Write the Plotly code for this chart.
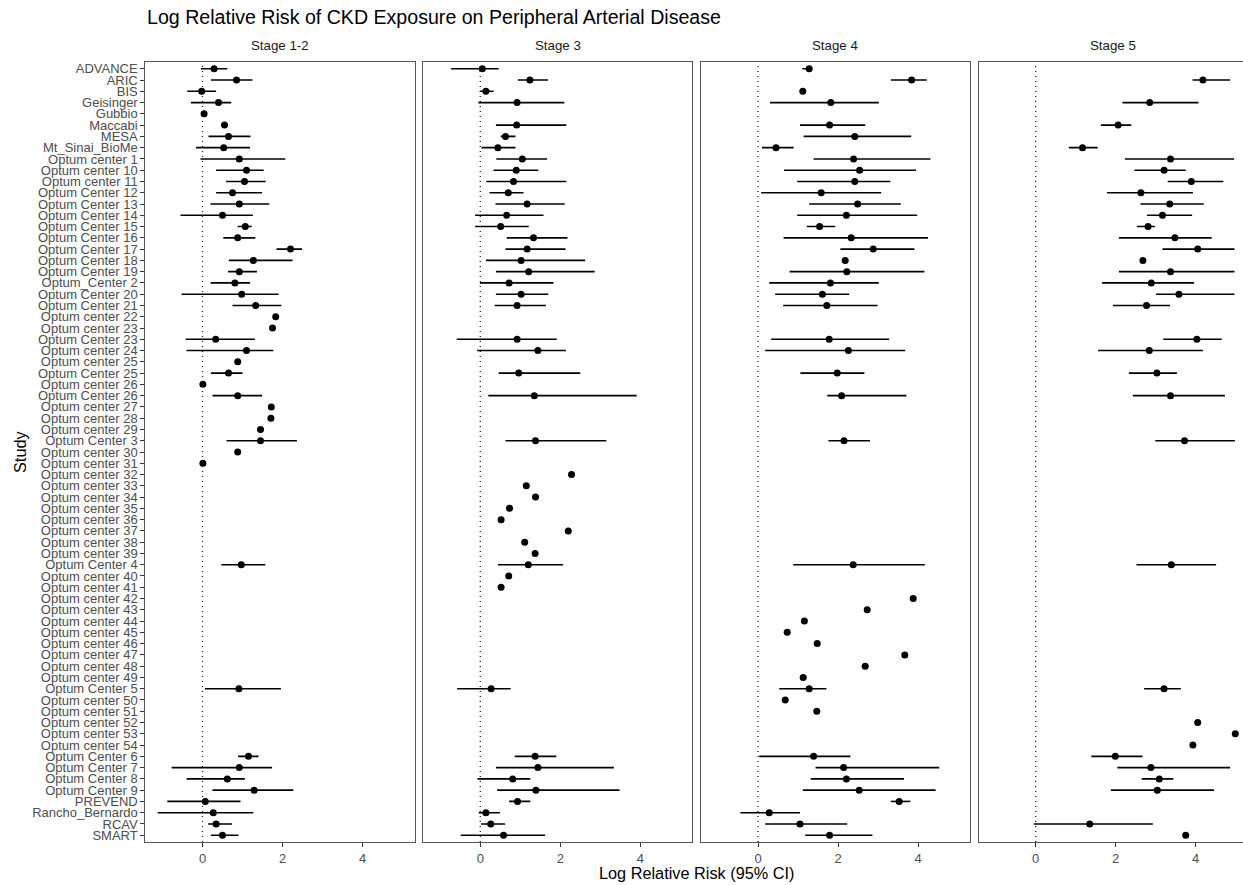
import plotly.graph_objects as go

N = None
studies = [
    "ADVANCE", "ARIC", "BIS", "Geisinger", "Gubbio", "Maccabi", "MESA", "Mt_Sinai_BioMe",
    "Optum center 1", "Optum center 10", "Optum center 11", "Optum Center 12", "Optum Center 13",
    "Optum Center 14", "Optum Center 15", "Optum Center 16", "Optum Center 17", "Optum Center 18",
    "Optum Center 19", "Optum_Center 2", "Optum Center 20", "Optum Center 21", "Optum center 22",
    "Optum center 23", "Optum Center 23", "Optum center 24", "Optum center 25", "Optum Center 25",
    "Optum center 26", "Optum Center 26", "Optum center 27", "Optum center 28", "Optum center 29",
    "Optum Center 3", "Optum center 30", "Optum center 31", "Optum center 32", "Optum center 33",
    "Optum center 34", "Optum center 35", "Optum center 36", "Optum center 37", "Optum center 38",
    "Optum center 39", "Optum Center 4", "Optum center 40", "Optum center 41", "Optum center 42",
    "Optum center 43", "Optum center 44", "Optum center 45", "Optum center 46", "Optum center 47",
    "Optum center 48", "Optum center 49", "Optum Center 5", "Optum center 50", "Optum center 51",
    "Optum center 52", "Optum center 53", "Optum center 54", "Optum Center 6", "Optum Center 7",
    "Optum Center 8", "Optum Center 9", "PREVEND", "Rancho_Bernardo", "RCAV", "SMART"]

stages = ["Stage 1-2", "Stage 3", "Stage 4", "Stage 5"]

# ---- Stage 1-2 ----
s12_est = [0.29, 0.85, -0.02, 0.40, 0.04, 0.55, 0.65, 0.53, 0.92, 1.10,
           1.05, 0.75, 0.92, 0.50, 1.07, 0.88, 2.20, 1.27, 0.92, 0.81,
           0.98, 1.33, 1.83, 1.75, 0.33, 1.10, 0.88, 0.65, 0.01, 0.88,
           1.72, 1.71, 1.45, 1.45, 0.88, 0.01, N, N, N, N,
           N, N, N, N, 0.97, N, N, N, N, N,
           N, N, N, N, N, 0.91, N, N, N, N,
           N, 1.15, 0.92, 0.62, 1.29, 0.07, 0.27, 0.34, 0.50]
s12_lo = [-0.04, 0.21, -0.38, -0.29, N, 0.48, 0.15, -0.16, -0.05, 0.34,
          0.59, 0.34, 0.20, -0.55, 0.88, 0.52, 1.85, 0.66, 0.64, 0.20,
          -0.52, 0.75, N, N, -0.42, -0.40, N, 0.21, N, 0.25,
          N, N, N, 0.60, N, N, N, N, N, N,
          N, N, N, N, 0.47, N, N, N, N, N,
          N, N, N, N, N, 0.06, N, N, N, N,
          N, 0.89, -0.77, -0.40, 0.25, -0.88, -1.12, 0.14, 0.21]
s12_hi = [0.62, 1.25, 0.34, 0.72, N, 0.62, 1.20, 1.19, 2.07, 1.53,
          1.58, 1.49, 1.67, 1.26, 1.23, 1.32, 2.49, 2.25, 1.36, 1.19,
          1.90, 1.97, N, N, 1.31, 1.77, N, 1.00, N, 1.49,
          N, N, N, 2.36, N, N, N, N, N, N,
          N, N, N, N, 1.57, N, N, N, N, N,
          N, N, N, N, N, 1.96, N, N, N, N,
          N, 1.40, 1.74, 1.06, 2.27, 0.95, 1.27, 0.74, 0.90]

# ---- Stage 3 ----
s3_est = [0.05, 1.24, 0.14, 0.92, N, 0.91, 0.63, 0.44, 1.05, 0.90,
          0.83, 0.70, 1.17, 0.66, 0.51, 1.33, 1.17, 1.02, 1.21, 0.72,
          1.02, 0.92, N, N, 0.92, 1.44, N, 0.96, N, 1.35,
          N, N, N, 1.38, N, N, 2.28, 1.15, 1.38, 0.73,
          0.52, 2.20, 1.11, 1.37, 1.20, 0.71, 0.52, N, N, N,
          N, N, N, N, N, 0.27, N, N, N, N,
          N, 1.37, 1.44, 0.81, 1.39, 0.93, 0.14, 0.26, 0.58]
s3_lo = [-0.73, 0.94, -0.01, -0.05, N, 0.39, 0.51, 0.03, 0.40, 0.33,
         0.15, 0.23, 0.38, -0.13, -0.13, 0.66, 0.63, 0.14, 0.39, -0.01,
         0.39, 0.36, N, N, -0.59, -0.08, N, 0.46, N, 0.20,
         N, N, N, 0.63, N, N, N, N, N, N,
         N, N, N, N, 0.44, N, N, N, N, N,
         N, N, N, N, N, -0.58, N, N, N, N,
         N, 0.86, 0.39, -0.07, 0.42, 0.72, -0.04, 0.02, -0.49]
s3_hi = [0.46, 1.69, 0.33, 2.10, N, 2.15, 0.88, 0.88, 1.67, 1.45,
         2.15, 1.08, 2.11, 1.58, 1.21, 2.18, 2.13, 2.62, 2.86, 1.83,
         1.70, 1.64, N, N, 1.91, 2.14, N, 2.50, N, 3.91,
         N, N, N, 3.15, N, N, N, N, N, N,
         N, N, N, N, 2.07, N, N, N, N, N,
         N, N, N, N, N, 0.76, N, N, N, N,
         N, 1.90, 3.34, 1.25, 3.48, 1.25, 0.49, 0.62, 1.62]

# ---- Stage 4 ----
s4_est = [1.28, 3.84, 1.12, 1.82, N, 1.79, 2.42, 0.45, 2.39, 2.54,
          2.42, 1.58, 2.49, 2.21, 1.54, 2.33, 2.88, 2.18, 2.22, 1.81,
          1.61, 1.72, N, N, 1.78, 2.26, N, 1.98, N, 2.09,
          N, N, N, 2.15, N, N, N, N, N, N,
          N, N, N, N, 2.38, N, N, 3.88, 2.73, 1.16,
          0.73, 1.48, 3.67, 2.68, 1.13, 1.28, 0.68, 1.47, N, N,
          N, 1.39, 2.14, 2.21, 2.53, 3.53, 0.28, 1.05, 1.79]
s4_lo = [1.11, 3.32, N, 0.30, N, 1.05, 1.14, 0.10, 1.39, 0.65,
         0.98, 0.08, 1.28, 0.98, 1.22, 0.64, 2.06, N, 0.79, 0.28,
         0.43, 0.63, N, N, 0.33, 0.18, N, 1.06, N, 1.73,
         N, N, N, 1.76, N, N, N, N, N, N,
         N, N, N, N, 0.88, N, N, N, N, N,
         N, N, N, N, N, 0.53, N, N, N, N,
         N, 0.03, 1.44, 1.32, 1.12, 3.32, -0.44, 0.18, 1.18]
s4_hi = [1.34, 4.22, N, 3.02, N, 2.68, 3.83, 0.89, 4.31, 3.95,
         3.31, 3.08, 3.57, 3.98, 1.93, 4.25, 3.91, N, 4.16, 3.02,
         2.28, 2.99, N, N, 3.28, 3.68, N, 2.66, N, 3.71,
         N, N, N, 2.80, N, N, N, N, N, N,
         N, N, N, N, 4.17, N, N, N, N, N,
         N, N, N, N, N, 1.71, N, N, N, N,
         N, 2.31, 4.53, 3.65, 4.44, 3.81, 1.05, 2.23, 2.86]

# ---- Stage 5 ----
s5_est = [N, 4.18, N, 2.85, N, 2.06, N, 1.17, 3.37, 3.21,
          3.89, 2.63, 3.35, 3.17, 2.81, 3.48, 4.05, 2.68, 3.37, 2.89,
          3.58, 2.77, N, N, 4.03, 2.84, N, 3.03, N, 3.37,
          N, N, N, 3.72, N, N, N, N, N, N,
          N, N, N, N, 3.39, N, N, N, N, N,
          N, N, N, N, N, 3.21, N, N, 4.05, 4.99,
          3.93, 1.99, 2.88, 3.09, 3.04, N, N, 1.35, 3.75]
s5_lo = [N, 3.92, N, 2.17, N, 1.63, N, 0.83, 2.23, 2.47,
         3.30, 1.78, 2.62, 2.78, 2.53, 2.08, 3.17, 2.62, 2.08, 1.66,
         3.01, 1.93, N, N, 3.19, 1.56, N, 2.33, N, 2.43,
         N, N, N, 2.99, N, N, N, N, N, N,
         N, N, N, N, 2.52, N, N, N, N, N,
         N, N, N, N, N, 2.71, N, N, N, N,
         N, 1.39, 2.04, 2.65, 1.88, N, N, -0.05, N]
s5_hi = [N, 4.86, N, 4.07, N, 2.39, N, 1.55, 4.96, 3.75,
         4.69, 3.93, 4.20, 3.91, 2.98, 4.40, 4.97, 2.73, 4.97, 3.96,
         4.97, 3.36, N, N, 4.65, 4.18, N, 3.53, N, 4.73,
         N, N, N, 4.98, N, N, N, N, N, N,
         N, N, N, N, 4.51, N, N, N, N, N,
         N, N, N, N, N, 3.63, N, N, N, N,
         N, 2.67, 4.86, 3.44, 4.46, N, N, 2.93, N]

series = [(s12_est, s12_lo, s12_hi), (s3_est, s3_lo, s3_hi),
          (s4_est, s4_lo, s4_hi), (s5_est, s5_lo, s5_hi)]
for trio in series:
    for arr in trio:
        assert len(arr) == len(studies)

x_ticks = [0, 2, 4]

# ---------------- layout geometry ----------------
W, H = 1243, 885
ML, MR, MT, MB = 145, 0, 62, 43
PW = W - ML - MR
PH = H - MT - MB
PX_PER_UNIT = 40.0
X_MIN, X_MAX = -1.43, 5.30
panel_left = [145.3, 423.1, 700.8, 978.5]
panel_w = (X_MAX - X_MIN) * PX_PER_UNIT

FONT = "Liberation Sans, Arial, Helvetica, sans-serif"
BORDER = "#555555"
TICKC = "#333333"
TXT = "#4D4D4D"
TICK_FS = 13
STRIP_FS = 13.3
AXT_FS = 16.3
TITLE_FS = 19.6

fig = go.Figure()
layout = dict(
    width=W, height=H,
    margin=dict(l=ML, r=MR, t=MT, b=MB, pad=0, autoexpand=False),
    paper_bgcolor="white", plot_bgcolor="white",
    showlegend=False,
    font=dict(family=FONT, color=TXT, size=TICK_FS),
)

shapes = []
annotations = []
for k, (stage, (est, lo, hi)) in enumerate(zip(stages, series)):
    sfx = "" if k == 0 else str(k + 1)
    xa, ya = "x" + sfx, "y" + sfx
    left = panel_left[k]
    right_px = min(left + panel_w, W - MR)
    d0 = max(0.0, (left - ML) / PW)
    d1 = min(1.0, (right_px - ML) / PW)
    xr_hi = X_MIN + (right_px - left) / PX_PER_UNIT

    # CI lines
    ex, ey = [], []
    for s, l, h in zip(studies, lo, hi):
        if l is not None and h is not None:
            ex += [l, h, None]
            ey += [s, s, None]
    fig.add_trace(go.Scatter(x=ex, y=ey, mode="lines", xaxis=xa, yaxis=ya,
                             line=dict(color="black", width=1.6),
                             hoverinfo="skip", connectgaps=False))
    # points
    fig.add_trace(go.Scatter(x=est, y=studies, mode="markers", xaxis=xa, yaxis=ya,
                             marker=dict(color="black", size=7, line=dict(width=0))))

    layout["xaxis" + sfx] = dict(
        domain=[d0, d1], anchor=ya, range=[X_MIN, xr_hi],
        tickmode="array", tickvals=x_ticks, ticktext=[str(t) for t in x_ticks],
        showgrid=False, zeroline=False, automargin=False,
        showline=True, mirror=True, linecolor=BORDER, linewidth=1,
        ticks="outside", ticklen=4, tickwidth=1, tickcolor=TICKC,
        tickfont=dict(family=FONT, size=TICK_FS, color=TXT),
    )
    yax = dict(
        domain=[0, 1], anchor=xa, type="category",
        categoryorder="array", categoryarray=studies,
        range=[len(studies) - 0.4, -0.6], automargin=False,
        showgrid=False, zeroline=False,
        showline=True, mirror=True, linecolor=BORDER, linewidth=1,
    )
    if k == 0:
        yax.update(tickmode="array", tickvals=studies, ticktext=studies,
                   ticks="outside", ticklen=4, tickwidth=1, tickcolor=TICKC,
                   tickfont=dict(family=FONT, size=TICK_FS, color=TXT),
                   showticklabels=True)
    else:
        yax.update(matches="y", ticks="", showticklabels=False)
    layout["yaxis" + sfx] = yax

    # dotted reference line at 0
    shapes.append(dict(type="line", xref=xa, yref=ya + " domain",
                       x0=0, x1=0, y0=0, y1=1,
                       line=dict(color="#222222", width=1.3, dash="1px,4px")))
    # strip label
    cx = ((left + left + panel_w) / 2 - ML) / PW
    annotations.append(dict(text=stage, xref="paper", yref="paper",
                            x=cx, y=(H - MB - 45) / PH, xanchor="center", yanchor="middle",
                            showarrow=False,
                            font=dict(family=FONT, size=STRIP_FS, color="#1A1A1A")))

# title
annotations.append(dict(text="Log Relative Risk of CKD Exposure on Peripheral Arterial Disease",
                        xref="paper", yref="paper", x=0.0, y=(H - MB - 17) / PH,
                        xanchor="left", yanchor="middle", showarrow=False,
                        font=dict(family=FONT, size=TITLE_FS, color="black")))
# axis titles
annotations.append(dict(text="Log Relative Risk (95% CI)", xref="paper", yref="paper",
                        x=((panel_left[0] + panel_left[3] + panel_w) / 2 - ML) / PW,
                        y=(H - MB - 873) / PH, xanchor="center", yanchor="middle",
                        showarrow=False, font=dict(family=FONT, size=AXT_FS, color="black")))
annotations.append(dict(text="Study", xref="paper", yref="paper",
                        x=(20 - ML) / PW, y=0.5, xanchor="center", yanchor="middle",
                        textangle=-90, showarrow=False,
                        font=dict(family=FONT, size=AXT_FS, color="black")))

layout["shapes"] = shapes
layout["annotations"] = annotations
fig.update_layout(**layout)

fig.write_html("out.html",
               config={"displayModeBar": False},
               post_script="document.body.style.margin='0';document.body.style.padding='0';"
                           "document.documentElement.style.overflow='hidden';")
